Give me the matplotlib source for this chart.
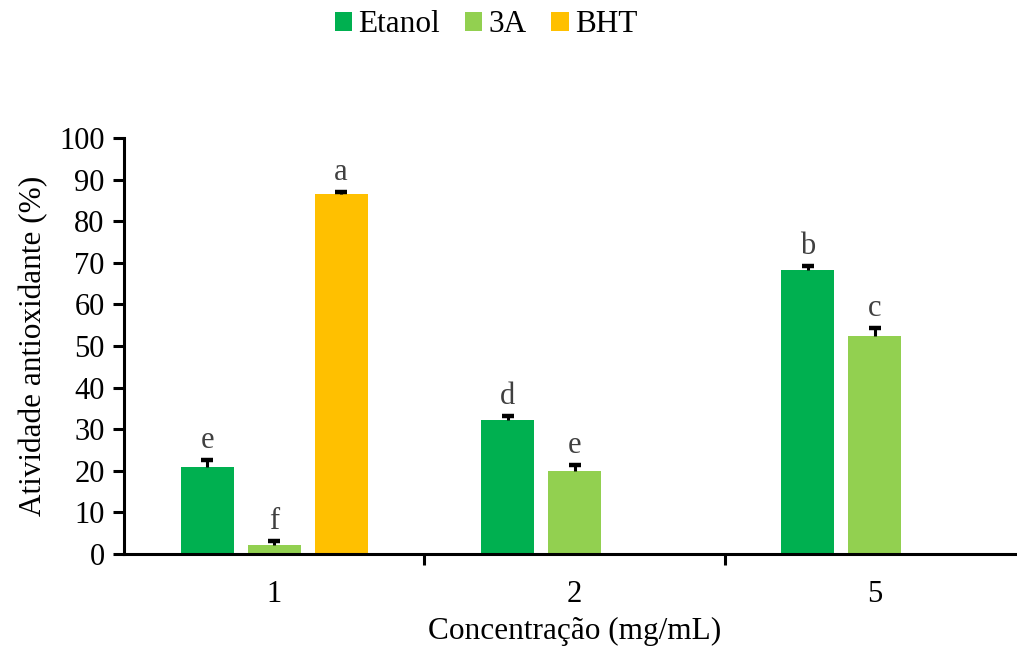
import numpy as np
import matplotlib.pyplot as plt

plt.rcParams['font.family'] = ['Liberation Serif', 'DejaVu Serif']

# data
categories = ['1', '2', '5']
series = ['Etanol', '3A', 'BHT']
etanol = [20.9, 32.2, 68.3]
etanol_err = [1.7, 1.0, 0.9]
tres_a = [2.2, 20.0, 52.4]
tres_a_err = [0.9, 1.4, 1.9]
bht = [86.5, 0.0, 0.0]
bht_err = [0.5, 0.0, 0.0]
letters_etanol = ['e', 'd', 'b']
letters_3a = ['f', 'e', 'c']
letters_bht = ['a', '', '']

colors = ['#00B050', '#92D050', '#FFC000']

fig = plt.figure(figsize=(10.17, 6.5), dpi=100)
ax = fig.add_axes([124 / 1017, 1 - 554 / 650, 901 / 1017, (554 - 138) / 650])

x = np.arange(len(categories))
offset = 0.223
width = 0.177
values = [etanol, tres_a, bht]
errors = [etanol_err, tres_a_err, bht_err]
letters = [letters_etanol, letters_3a, letters_bht]

for i in range(3):
    pos = x + (i - 1) * offset
    vals = np.array(values[i])
    errs = np.array(errors[i])
    show = vals > 0
    ax.bar(pos[show], vals[show], width, color=colors[i], label=series[i], zorder=2)
    # upper error bar only: stem + cap
    ax.vlines(pos[show], vals[show], vals[show] + errs[show], color='black', lw=2.2, zorder=3)
    ax.plot(pos[show], vals[show] + errs[show], ls='none', marker='_', ms=9,
            mew=3.2, color='black', zorder=3)
    for p, v, e, t in zip(pos, vals, errs, letters[i]):
        if t:
            ax.text(p, v + e + 1.2, t, ha='center', va='bottom', fontsize=22, color='#404040')

ax.set_xlim(-0.5, 2.5)
ax.set_ylim(0, 100)
ax.set_yticks(np.arange(0, 101, 10))
ax.set_xticks(x)
ax.set_xticklabels(categories)
ax.set_xticks([0.5, 1.5], minor=True)
ax.tick_params(axis='x', which='major', length=0, labelsize=22, pad=19)
ax.tick_params(axis='x', which='minor', length=8, width=2.2)
ax.tick_params(axis='y', length=8, width=2.2, labelsize=22, pad=6)

for s in ['top', 'right']:
    ax.spines[s].set_visible(False)
for s in ['left', 'bottom']:
    ax.spines[s].set_linewidth(2.2)

ax.set_ylabel('Atividade antioxidante (%)', fontsize=22.5, labelpad=8)
ax.set_xlabel('Concentração (mg/mL)', fontsize=22.5, va='center')
ax.xaxis.set_label_coords((575 - 124) / 901, (554 - 631) / 416)

fig.legend(loc='center', bbox_to_anchor=(486 / 1017, 1 - 25 / 650), ncol=3,
           frameon=False, fontsize=22.5, handlelength=0.55, handleheight=0.55,
           handletextpad=0.2, columnspacing=0.8)

fig.savefig('out.png', dpi=100)
